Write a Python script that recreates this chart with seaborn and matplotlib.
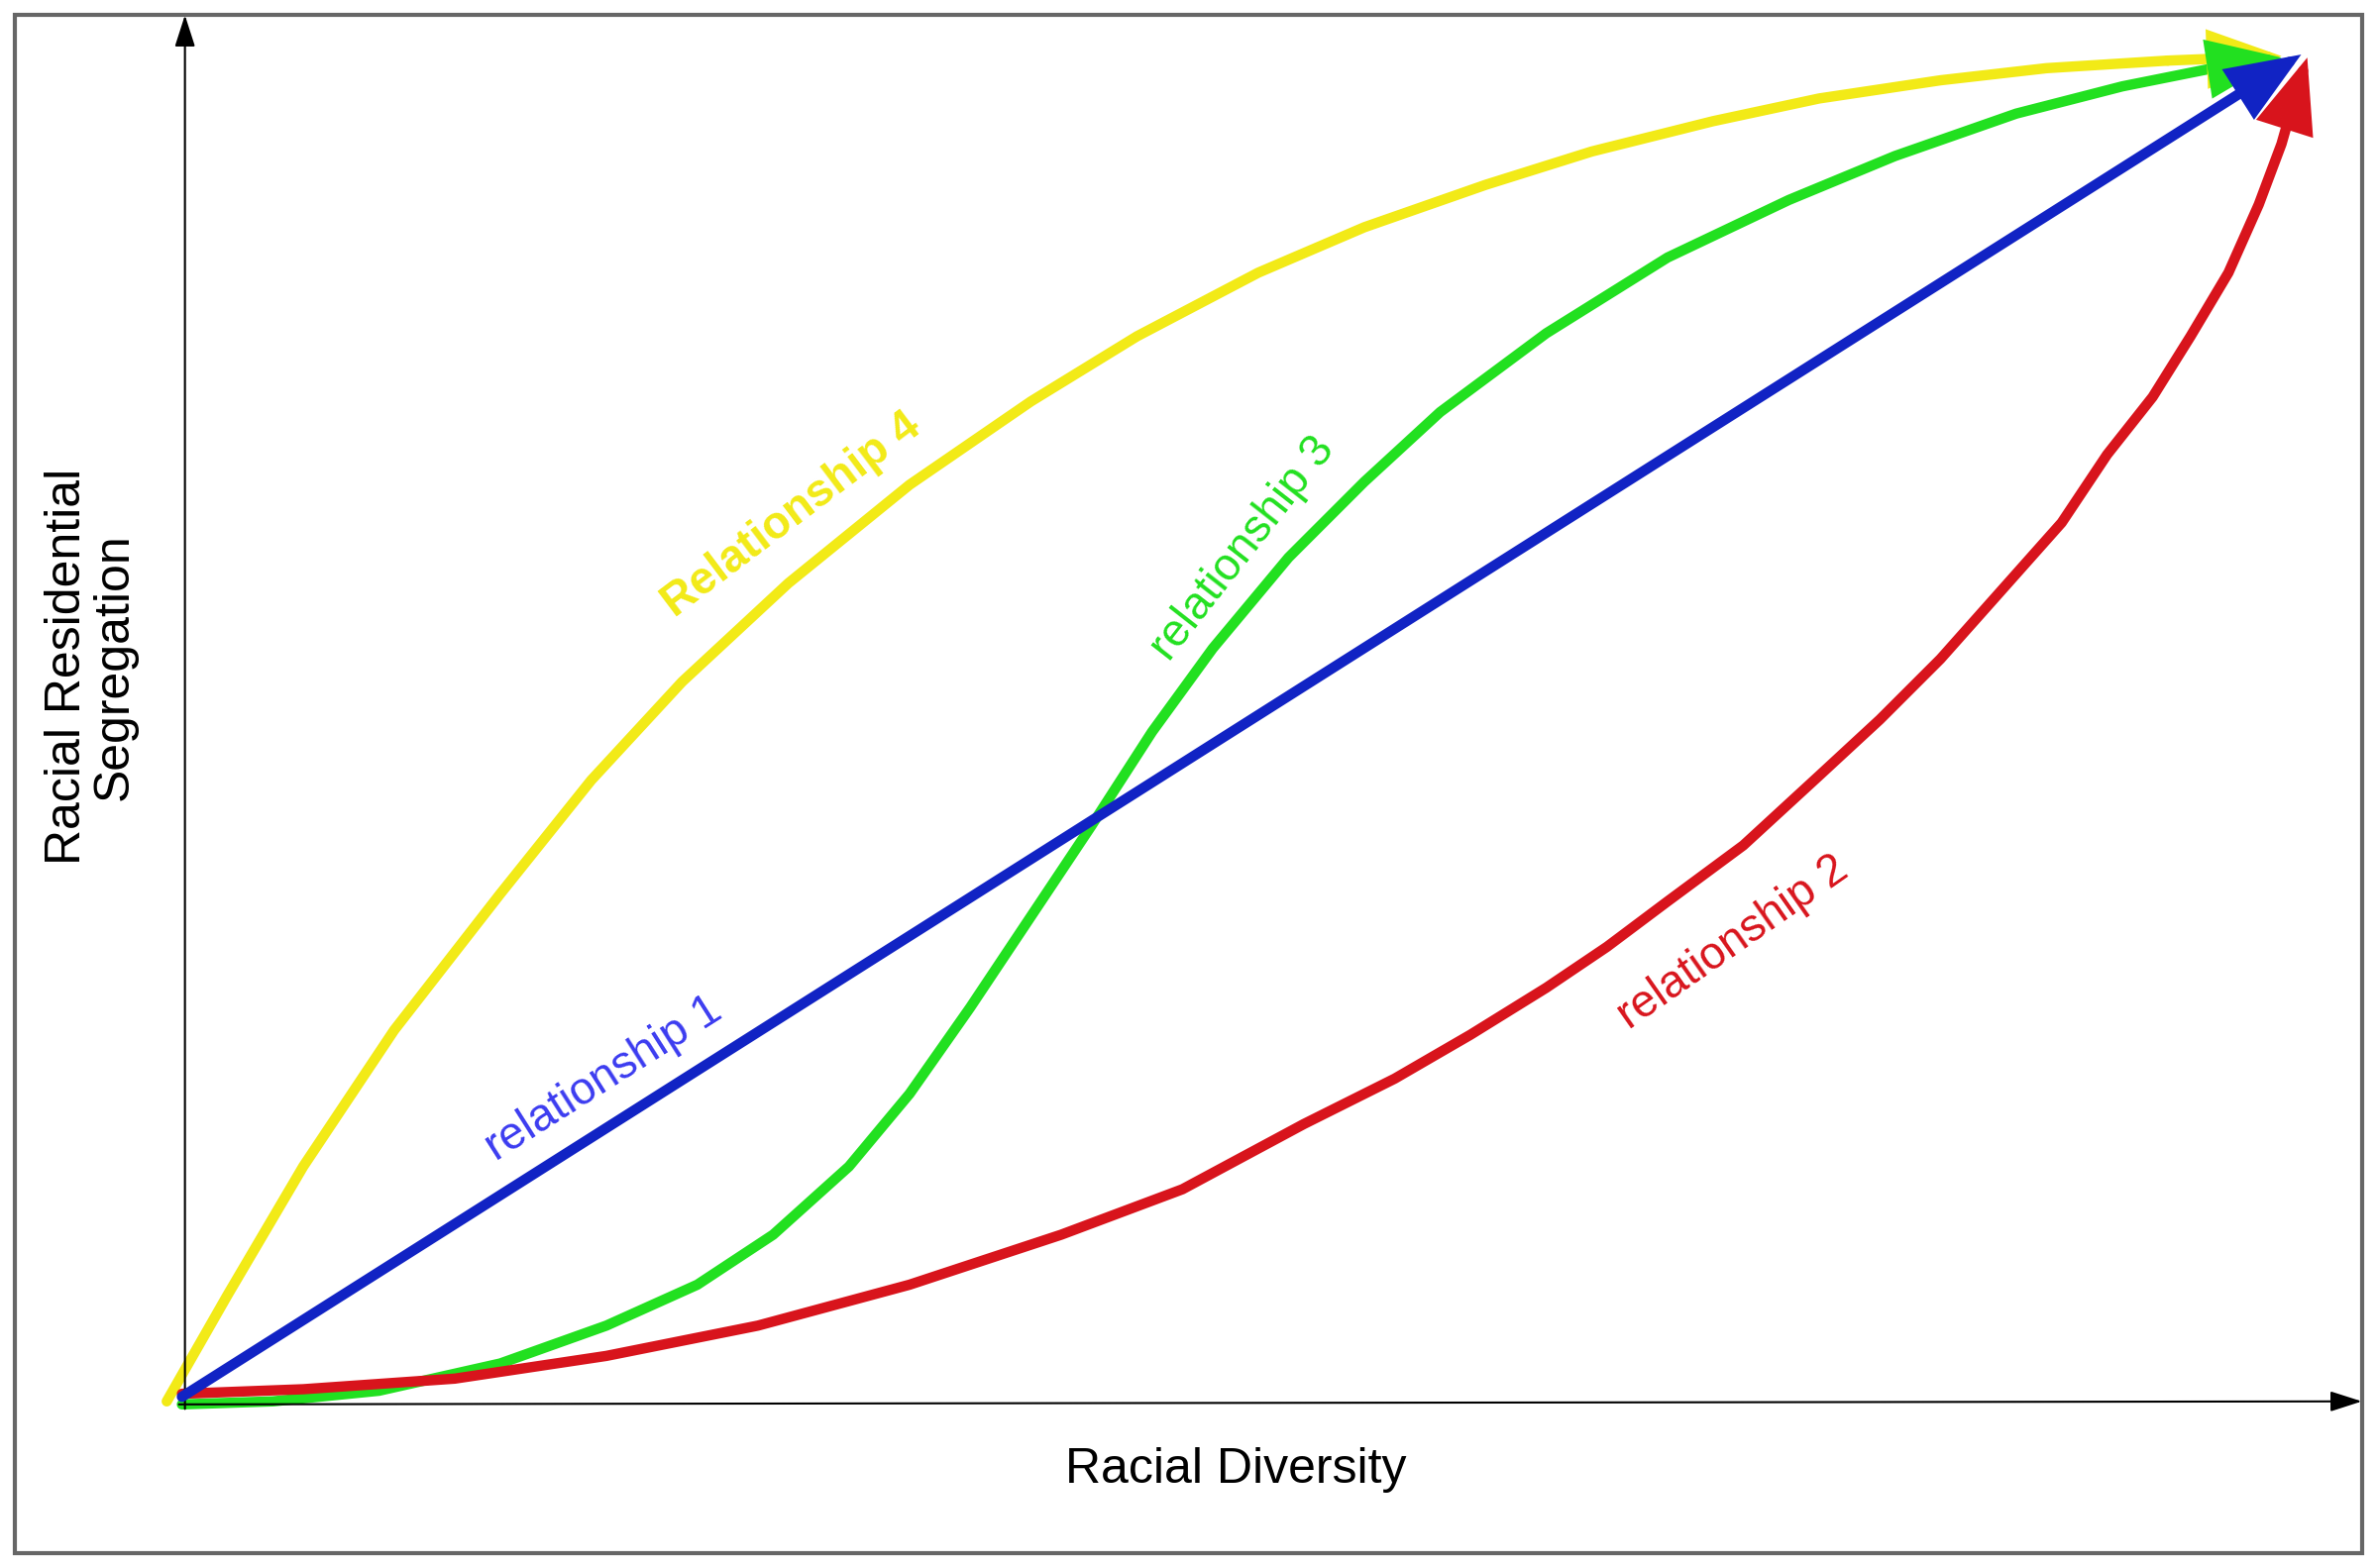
import matplotlib.pyplot as plt
import matplotlib.patches as mpatches
import pandas as pd
import seaborn as sns

# curve points (pixel frame 1568 x 1035, y downwards)
yellow_x = [110, 150, 200, 260, 330, 390, 450, 520, 600, 680, 750, 830, 900, 980,
            1050, 1130, 1200, 1280, 1350, 1430, 1505]
yellow_y = [925, 855, 770, 680, 590, 515, 450, 385, 320, 265, 222, 180, 150, 122,
            100, 80, 65, 53, 45, 40, 37]
green_x = [120, 180, 250, 330, 400, 460, 510, 560, 600, 640, 680, 720, 760, 800, 850,
           900, 950, 1020, 1100, 1180, 1250, 1330, 1400, 1460, 1505]
green_y = [927, 925, 918, 900, 875, 848, 815, 770, 722, 665, 605, 545, 483, 428, 368,
           318, 272, 220, 170, 132, 103, 75, 57, 45, 38]
red_x = [120, 200, 300, 400, 500, 600, 700, 780, 860, 920, 970, 1020, 1060, 1100, 1150,
         1200, 1240, 1280, 1320, 1360, 1390, 1420, 1445, 1470, 1490, 1505, 1515, 1522]
red_y = [920, 917, 910, 895, 875, 848, 815, 785, 742, 712, 683, 652, 625, 595, 558,
         512, 475, 435, 390, 345, 300, 262, 222, 180, 135, 95, 60, 38]
blue_x = [120, 1518]
blue_y = [922, 36]

COLORS = {"yellow": "#f2ea17", "green": "#22e020", "red": "#d8141c", "blue": "#1123c4"}

sns.set_style("white")
plt.rcParams["font.family"] = ["Liberation Sans", "DejaVu Sans"]
plt.rcParams["text.color"] = "black"

fig = plt.figure(figsize=(23.99, 15.83), dpi=100)
ax = fig.add_axes([0, 0, 1, 1])
W, H = 1568, 1035
ax.set_xlim(0, W)
ax.set_ylim(H, 0)
ax.axis("off")

# border
ax.add_patch(mpatches.Rectangle((10, 10), W - 20, H - 20, fill=False,
                                edgecolor="#666666", lw=3))

# axes arrows
axis_arrow = dict(arrowstyle="-|>,head_length=1.4,head_width=0.45", color="black",
                  lw=1.5, mutation_scale=14, shrinkA=0, shrinkB=0)
ax.annotate("", xy=(122, 10), xytext=(122, 930), arrowprops=axis_arrow)
ax.annotate("", xy=(1558, 925), xytext=(118, 927), arrowprops=axis_arrow)

lw = 7.5
series = [("yellow", yellow_x, yellow_y), ("green", green_x, green_y),
          ("red", red_x, red_y), ("blue", blue_x, blue_y)]
for name, xs, ys in series:
    df = pd.DataFrame({"x": xs, "y": ys})
    # stop the line a little short so the arrowhead covers the tip
    sns.lineplot(data=df.iloc[:-1], x="x", y="y", sort=False, color=COLORS[name],
                 lw=lw, ax=ax)
    ax.annotate("", xy=(df.x.iloc[-1], df.y.iloc[-1]),
                xytext=(df.x.iloc[-2], df.y.iloc[-2]),
                arrowprops=dict(arrowstyle="-|>,head_length=1.5,head_width=0.6",
                                color=COLORS[name], lw=lw, mutation_scale=27,
                                shrinkA=0, shrinkB=0, joinstyle="miter"))

ax.set_xlabel("")
ax.set_ylabel("")

fs = 33
ax.text(398, 712, "relationship 1", color="#3b3bf0", fontsize=fs, rotation=32.4,
        ha="center", va="center", rotation_mode="anchor")
ax.text(1143, 622, "relationship 2", color=COLORS["red"], fontsize=fs, rotation=35,
        ha="center", va="center", rotation_mode="anchor")
ax.text(820, 362, "relationship 3", color=COLORS["green"], fontsize=fs, rotation=52,
        ha="center", va="center", rotation_mode="anchor")
ax.text(522, 340, "Relationship 4", color=COLORS["yellow"], fontsize=fs, fontweight="bold",
        rotation=37, ha="center", va="center", rotation_mode="anchor")

ax.text(815, 970, "Racial Diversity", fontsize=36, ha="center", va="center")
ax.text(60, 440, "Racial Residential\nSegregation", fontsize=36, ha="center", va="center",
        rotation=90, linespacing=1.05,
        family=["Liberation Sans Narrow", "Liberation Sans", "DejaVu Sans"])

fig.savefig("out.png", dpi=100)
